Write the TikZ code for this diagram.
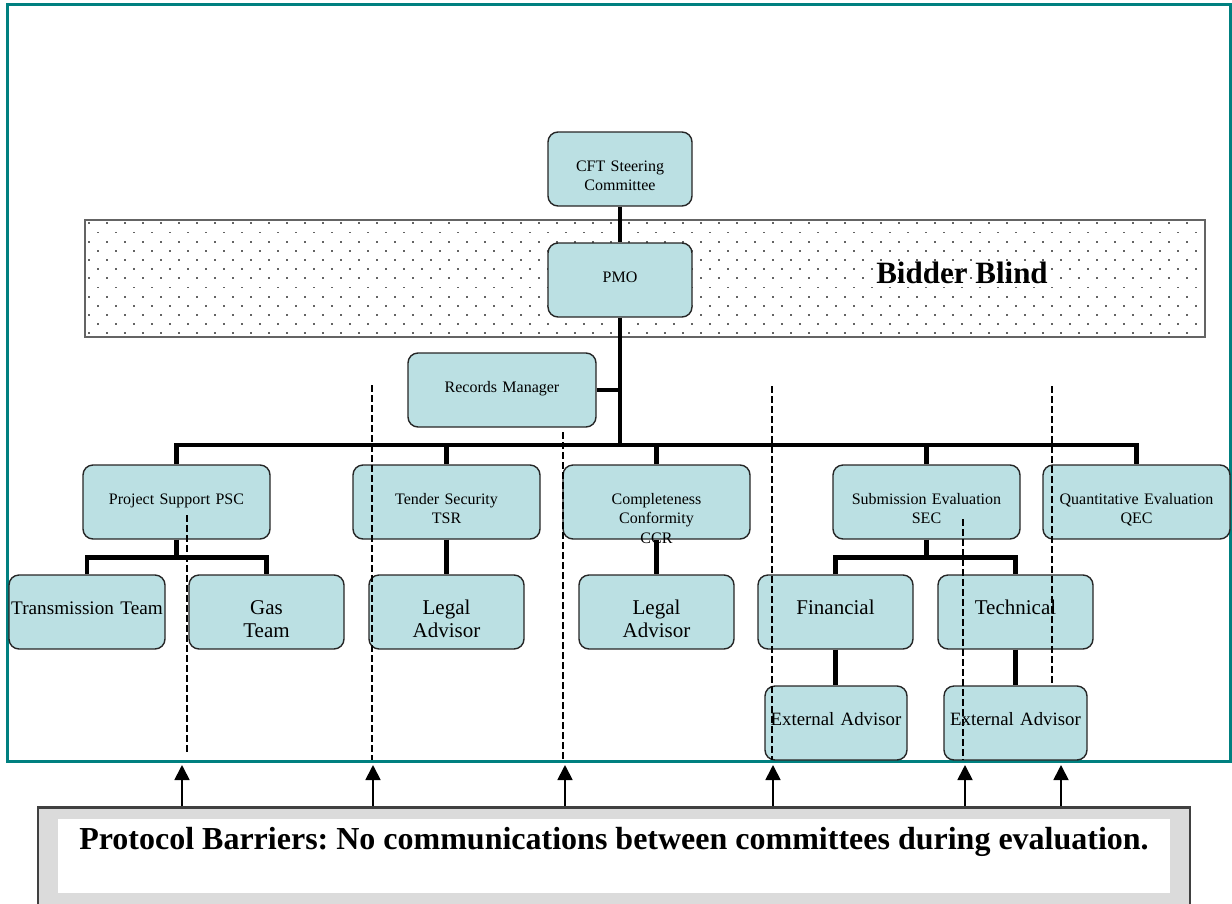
\documentclass[tikz,border=0pt]{standalone}
\usepackage{fontspec}
\setmainfont{Liberation Serif}
\usetikzlibrary{arrows.meta}
\definecolor{boxfill}{RGB}{187,224,227}
\definecolor{frameteal}{RGB}{0,128,128}
\definecolor{blindgray}{RGB}{100,100,100}
\frenchspacing

\begin{document}
\begin{tikzpicture}[x=1pt,y=-1pt,
    orgbox/.style={draw=black!85,line width=1.4pt,fill=boxfill,rounded corners=10pt,inner sep=0pt,align=center,text height=39pt,text depth=35pt},
    cmte/.style={orgbox,font=\fontsize{16}{19.5}\selectfont},
    team/.style={orgbox,font=\fontsize{21}{23}\selectfont},
    advisor/.style={orgbox,font=\fontsize{18.8}{22}\selectfont},
    link/.style={line width=4.8pt},
    barrier/.style={line width=2.8pt,dash pattern=on 6.5pt off 3.5pt},
    pointer/.style={-{Triangle[width=15pt,length=15pt]},line width=1.8pt}]
    \useasboundingbox (0,0) rectangle (1232,903);
    \draw[frameteal,line width=3pt] (7.3,4.7) rectangle (1230.5,761.5);

    \draw[blindgray,line width=1.5pt,fill=white] (85,220) rectangle (1205,337);
    \foreach \r in {0,...,12}{
        \pgfmathsetmacro\shift{9*mod(\r,2)}
        \foreach \c in {0,...,61}{
            \fill[blindgray] (89+18*\c+\shift-0.9,223.3+9.17*\r-0.9) rectangle ++(1.8,1.8);
        }
    }
    \node[font=\fontsize{31}{36}\selectfont\bfseries,anchor=base] (blind) at (962,283) {Bidder Blind};

    \node[cmte,text width=144pt] (cft) at (620,169) {CFT Steering\\Committee};
    \node[cmte,text width=144pt] (pmo) at (620,280) {PMO};
    \node[cmte,text width=188pt] (records) at (502,390) {Records Manager};
    \node[cmte,text width=187pt] (psc) at (176.5,502) {Project Support PSC};
    \node[cmte,text width=187pt] (tsr) at (446.5,502) {Tender Security\\TSR};
    \node[cmte,text width=187pt] (ccr) at (656.5,502) {Completeness\\Conformity\\CCR};
    \node[cmte,text width=187pt] (sec) at (926.5,502) {Submission Evaluation\\SEC};
    \node[cmte,text width=187pt] (qec) at (1136.5,502) {Quantitative Evaluation\\QEC};
    \node[advisor,text width=156pt,font=\fontsize{19.2}{22}\selectfont] (trans) at (87,612) {Transmission Team};
    \node[team,text width=155pt] (gas) at (266.5,612) {Gas\\Team};
    \node[team,text width=155pt] (legaltsr) at (446.5,612) {Legal\\Advisor};
    \node[team,text width=155pt] (legalccr) at (656.5,612) {Legal\\Advisor};
    \node[team,text width=155pt] (fin) at (835.5,612) {Financial};
    \node[team,text width=155pt] (tech) at (1015.5,612) {Technical};
    \node[advisor,text width=142pt] (extfin) at (836,723) {External Advisor};
    \node[advisor,text width=143pt] (exttech) at (1015.5,723) {External Advisor};

    \coordinate (hub) at (620,445);
    \draw[link] (cft.south) -- (pmo.north);
    \draw[link] (pmo.south) -- (hub);
    \draw[link] (records.east) -- (records.east -| hub);
    \draw[link] (psc.north) |- (hub) -| (qec.north);
    \foreach \n in {tsr,ccr,sec}
        \draw[link] (\n.north) -- (\n.north |- hub);
    \draw[link] (psc.south) -- ++(0,18) coordinate (pscfork);
    \draw[link] (trans.north) |- (pscfork) -| (gas.north);
    \draw[link] (sec.south) -- ++(0,18) coordinate (secfork);
    \draw[link] (fin.north) |- (secfork) -| (tech.north);
    \draw[link] (tsr.south) -- (legaltsr.north);
    \draw[link] (ccr.south) -- (legalccr.north);
    \draw[link] (fin.south) -- (fin.south |- extfin.north);
    \draw[link] (tech.south) -- (tech.south |- exttech.north);

    \foreach \x/\ya/\yb in {187/515/752,372/385/760,563/432/760,772/386/760,963/519/760,1052/386/684}
        \draw[barrier] (\x,\ya) -- (\x,\yb);

    \node[draw=black!75,line width=2.6pt,fill=black!14,minimum width=1152pt,minimum height=116pt,anchor=north,inner sep=0pt] (protocol) at (614,806) {};
    \fill[white] (58,819) rectangle (1170,893);
    \node[font=\fontsize{32}{38}\selectfont\bfseries,anchor=base] (protocoltext) at (614,849) {Protocol Barriers: No communications between committees during evaluation.};
    \foreach \x in {182,373,565,773,965,1061}
        \draw[pointer] (\x,0 |- protocol.north) -- (\x,765);
\end{tikzpicture}
\end{document}
